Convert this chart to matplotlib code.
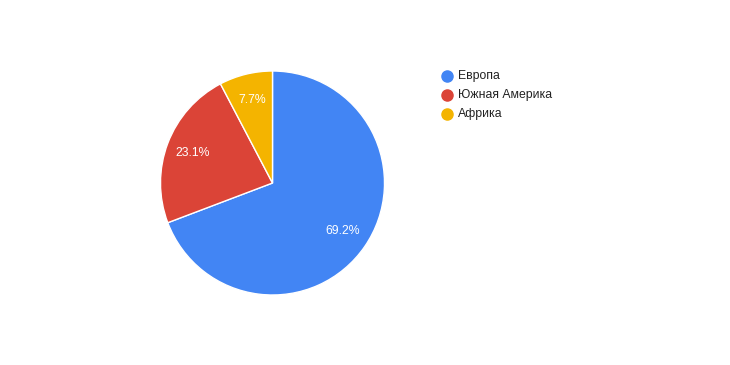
import matplotlib.pyplot as plt
from matplotlib.lines import Line2D

# Dados
labels = ['Европа', 'Южная Америка', 'Африка']
values = [9, 3, 1]
colors = ['#4285F4', '#DB4437', '#F4B400']

plt.rcParams['font.family'] = ['Liberation Sans', 'DejaVu Sans']

W, H = 730, 365
fig = plt.figure(figsize=(W / 100, H / 100), dpi=100)

# Pizza (centro ~ (272, 183), raio ~112 px)
cx, cy, r = 272.5, 183, 112
ax = fig.add_axes([(cx - r) / W, (H - cy - r) / H, 2 * r / W, 2 * r / H])
wedges, texts, autotexts = ax.pie(
    values, colors=colors, startangle=90, counterclock=False,
    autopct='%1.1f%%', pctdistance=0.76,
    wedgeprops=dict(edgecolor='white', linewidth=1),
    textprops=dict(color='white', fontsize=8.8))
ax.set_xlim(-1, 1)
ax.set_ylim(-1, 1)
ax.set_aspect('auto')
ax.axis('off')

# Legenda
for i, (lab, col) in enumerate(zip(labels, colors)):
    y = 76 + 19 * i
    fig.add_artist(Line2D([447 / W], [1 - y / H], marker='o', markersize=8,
                          color=col, linestyle='none', transform=fig.transFigure))
    fig.text(458 / W, 1 - y / H, lab, fontsize=8.8, color='#222222',
             va='center', ha='left')

plt.savefig('out.png', dpi=100)
